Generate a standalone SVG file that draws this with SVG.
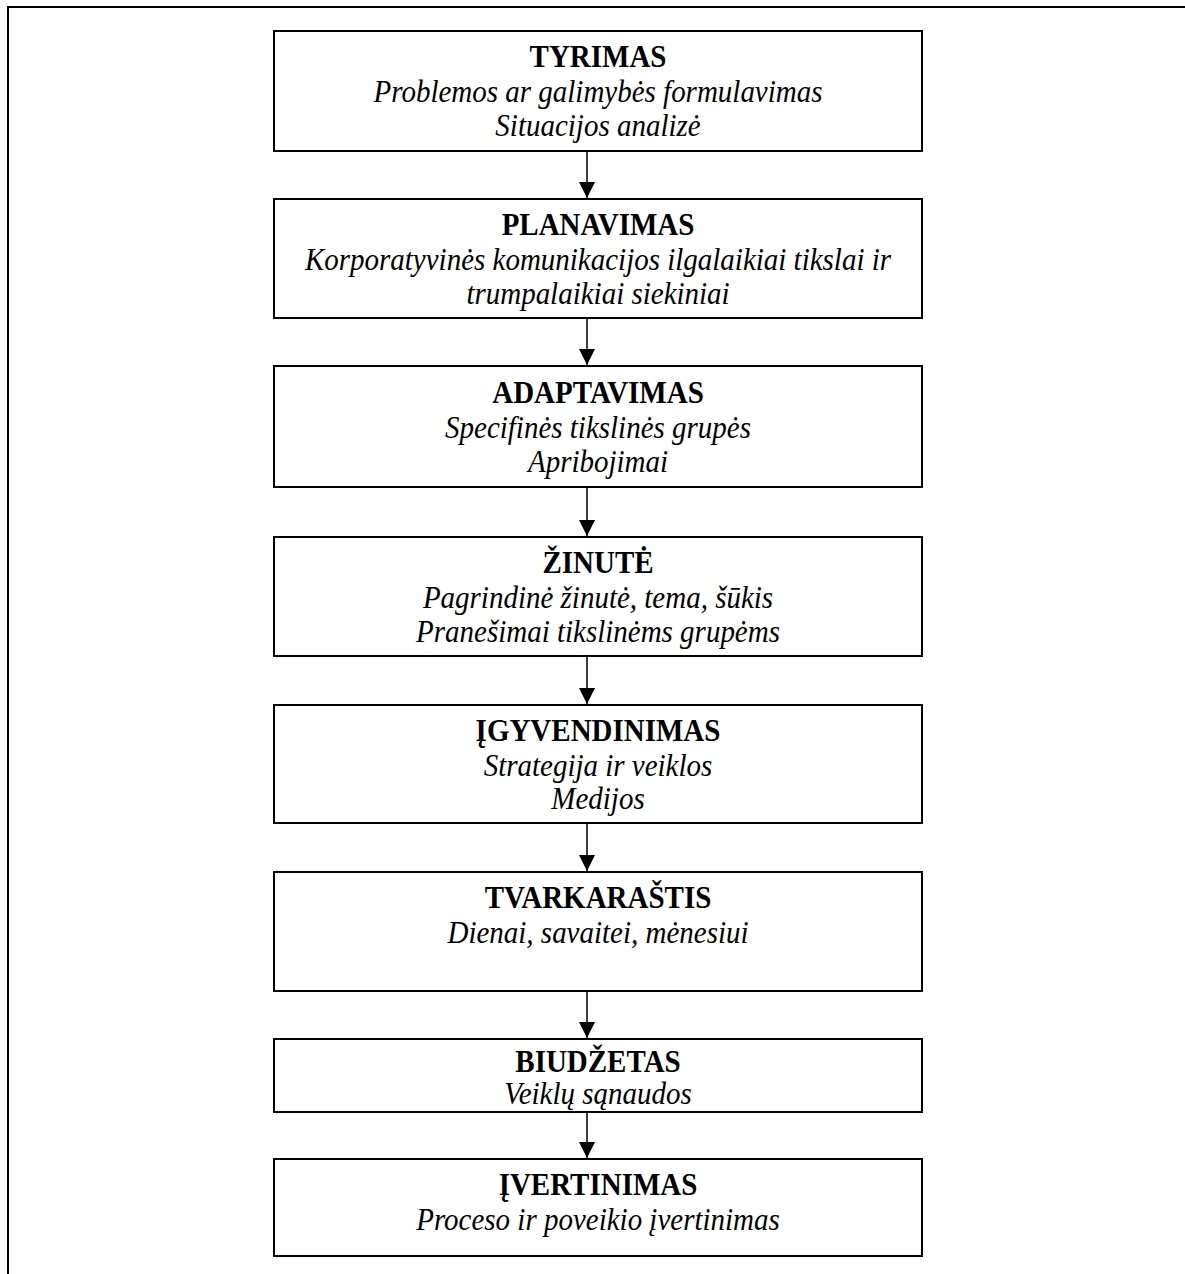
<svg xmlns="http://www.w3.org/2000/svg" width="1185" height="1274" viewBox="0 0 1185 1274">
  <style>
    .box { fill: #ffffff; stroke: #000000; stroke-width: 2; }
    .frame { fill: none; stroke: #000000; stroke-width: 2; }
    .title { font-family: "Liberation Serif", "Times New Roman", serif; font-size: 29px; font-weight: bold; text-anchor: middle; fill: #000000; }
    .sub { font-family: "Liberation Serif", "Times New Roman", serif; font-size: 29px; font-style: italic; text-anchor: middle; fill: #000000; }
    .link { stroke: #000000; stroke-width: 1.5; fill: none; }
  </style>
  <defs>
    <marker id="arrow" markerUnits="userSpaceOnUse" markerWidth="16" markerHeight="16" refX="16" refY="8" orient="auto">
      <path d="M0,0 L16,8 L0,16 Z" fill="#000000"/>
    </marker>
  </defs>
  <rect width="1185" height="1274" fill="#ffffff"/>

  <!-- page frame: left and top edges -->
  <path class="frame" d="M8,1274 L8,7 L1185,7"/>

  <!-- connectors -->
  <g id="connectors">
    <line class="link" x1="587" y1="152" x2="587" y2="198" marker-end="url(#arrow)"/>
    <line class="link" x1="587" y1="319" x2="587" y2="365" marker-end="url(#arrow)"/>
    <line class="link" x1="587" y1="488" x2="587" y2="536" marker-end="url(#arrow)"/>
    <line class="link" x1="587" y1="657" x2="587" y2="704" marker-end="url(#arrow)"/>
    <line class="link" x1="587" y1="824" x2="587" y2="871" marker-end="url(#arrow)"/>
    <line class="link" x1="587" y1="992" x2="587" y2="1038" marker-end="url(#arrow)"/>
    <line class="link" x1="587" y1="1113" x2="587" y2="1158" marker-end="url(#arrow)"/>
  </g>

  <!-- text is drawn slightly stretched vertically (matrix a=1, d=1.1) -->
  <g id="tyrimas">
    <rect class="box" x="274" y="31" width="648" height="120"/>
    <text class="title" transform="matrix(1,0,0,1.1,598,67)">TYRIMAS</text>
    <text class="sub" transform="matrix(1,0,0,1.1,598,102)">Problemos ar galimybės formulavimas</text>
    <text class="sub" transform="matrix(1,0,0,1.1,598,136)">Situacijos analizė</text>
  </g>

  <g id="planavimas">
    <rect class="box" x="274" y="199" width="648" height="119"/>
    <text class="title" transform="matrix(1,0,0,1.1,598,235)">PLANAVIMAS</text>
    <text class="sub" transform="matrix(1,0,0,1.1,598,270)">Korporatyvinės komunikacijos ilgalaikiai tikslai ir</text>
    <text class="sub" transform="matrix(1,0,0,1.1,598,304)">trumpalaikiai siekiniai</text>
  </g>

  <g id="adaptavimas">
    <rect class="box" x="274" y="366" width="648" height="121"/>
    <text class="title" transform="matrix(1,0,0,1.1,598,403)">ADAPTAVIMAS</text>
    <text class="sub" transform="matrix(1,0,0,1.1,598,438)">Specifinės tikslinės grupės</text>
    <text class="sub" transform="matrix(1,0,0,1.1,598,472)">Apribojimai</text>
  </g>

  <g id="zinute">
    <rect class="box" x="274" y="537" width="648" height="119"/>
    <text class="title" transform="matrix(1,0,0,1.1,598,573)">ŽINUTĖ</text>
    <text class="sub" transform="matrix(1,0,0,1.1,598,608)">Pagrindinė žinutė, tema, šūkis</text>
    <text class="sub" transform="matrix(1,0,0,1.1,598,642)">Pranešimai tikslinėms grupėms</text>
  </g>

  <g id="igyvendinimas">
    <rect class="box" x="274" y="705" width="648" height="118"/>
    <text class="title" transform="matrix(1,0,0,1.1,598,741)">ĮGYVENDINIMAS</text>
    <text class="sub" transform="matrix(1,0,0,1.1,598,776)">Strategija ir veiklos</text>
    <text class="sub" transform="matrix(1,0,0,1.1,598,809)">Medijos</text>
  </g>

  <g id="tvarkarastis">
    <rect class="box" x="274" y="872" width="648" height="119"/>
    <text class="title" transform="matrix(1,0,0,1.1,598,908)">TVARKARAŠTIS</text>
    <text class="sub" transform="matrix(1,0,0,1.1,598,943)">Dienai, savaitei, mėnesiui</text>
  </g>

  <g id="biudzetas">
    <rect class="box" x="274" y="1039" width="648" height="73"/>
    <text class="title" transform="matrix(1,0,0,1.1,598,1072)">BIUDŽETAS</text>
    <text class="sub" transform="matrix(1,0,0,1.1,598,1104)">Veiklų sąnaudos</text>
  </g>

  <g id="ivertinimas">
    <rect class="box" x="274" y="1159" width="648" height="97"/>
    <text class="title" transform="matrix(1,0,0,1.1,598,1195)">ĮVERTINIMAS</text>
    <text class="sub" transform="matrix(1,0,0,1.1,598,1230)">Proceso ir poveikio įvertinimas</text>
  </g>
</svg>
